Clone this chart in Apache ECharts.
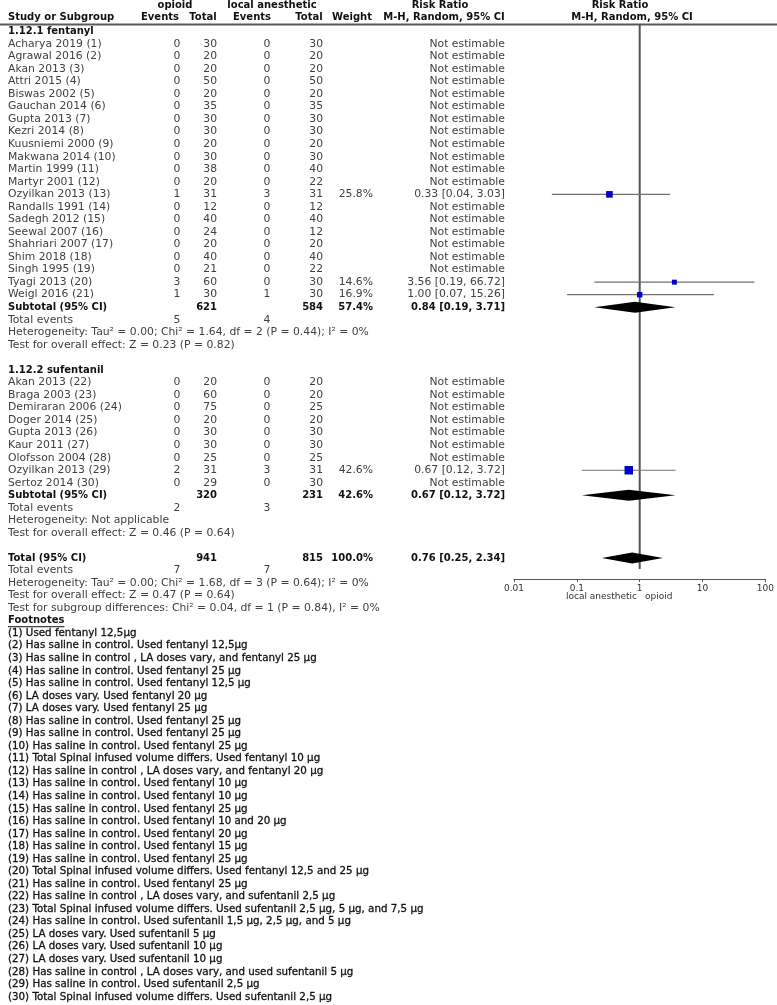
<!DOCTYPE html>
<html>
<head>
<meta charset="utf-8">
<script src="https://cdn.jsdelivr.net/npm/echarts@6/dist/echarts.min.js"></script>
<style>
html,body{margin:0;padding:0;background:#fff}
#chart{width:777px;height:1005px}
</style>
</head>
<body>
<div id="chart"></div>
<script>
// ---- data: 1.12.1 fentanyl
var fentanylStudies = ["Acharya 2019 (1)","Agrawal 2016 (2)","Akan 2013 (3)","Attri 2015 (4)","Biswas 2002 (5)","Gauchan 2014 (6)","Gupta 2013 (7)","Kezri 2014 (8)","Kuusniemi 2000 (9)","Makwana 2014 (10)","Martin 1999 (11)","Martyr 2001 (12)","Ozyilkan 2013 (13)","Randalls 1991 (14)","Sadegh 2012 (15)","Seewal 2007 (16)","Shahriari 2007 (17)","Shim 2018 (18)","Singh 1995 (19)","Tyagi 2013 (20)","Weigl 2016 (21)"];
var fentanylOpioidEvents = [0,0,0,0,0,0,0,0,0,0,0,0,1,0,0,0,0,0,0,3,1];
var fentanylOpioidTotal  = [30,20,20,50,20,35,30,30,20,30,38,20,31,12,40,24,20,40,21,60,30];
var fentanylLAEvents     = [0,0,0,0,0,0,0,0,0,0,0,0,3,0,0,0,0,0,0,0,1];
var fentanylLATotal      = [30,20,20,50,20,35,30,30,20,30,40,22,31,12,40,12,20,40,22,30,30];
var fentanylWeight = [null,null,null,null,null,null,null,null,null,null,null,null,25.8,null,null,null,null,null,null,14.6,16.9];
var fentanylRR = [null,null,null,null,null,null,null,null,null,null,null,null,[0.33,0.04,3.03],null,null,null,null,null,null,[3.56,0.19,66.72],[1.00,0.07,15.26]];
var fentanylSubtotal = [621, 584, 57.4];
var fentanylSubtotalRR = [0.84, 0.19, 3.71];
var fentanylEvents = [5, 4];
var fentanylStats = ["Heterogeneity: Tau\u00b2 = 0.00; Chi\u00b2 = 1.64, df = 2 (P = 0.44); I\u00b2 = 0%","Test for overall effect: Z = 0.23 (P = 0.82)"];

// ---- data: 1.12.2 sufentanil
var sufentanilStudies = ["Akan 2013 (22)","Braga 2003 (23)","Demiraran 2006 (24)","Doger 2014 (25)","Gupta 2013 (26)","Kaur 2011 (27)","Olofsson 2004 (28)","Ozyilkan 2013 (29)","Sertoz 2014 (30)"];
var sufentanilOpioidEvents = [0,0,0,0,0,0,0,2,0];
var sufentanilOpioidTotal  = [20,60,75,20,30,30,25,31,29];
var sufentanilLAEvents     = [0,0,0,0,0,0,0,3,0];
var sufentanilLATotal      = [20,20,25,20,30,30,25,31,30];
var sufentanilWeight = [null,null,null,null,null,null,null,42.6,null];
var sufentanilRR = [null,null,null,null,null,null,null,[0.67,0.12,3.72],null];
var sufentanilSubtotal = [320, 231, 42.6];
var sufentanilSubtotalRR = [0.67, 0.12, 3.72];
var sufentanilEvents = [2, 3];
var sufentanilStats = ["Heterogeneity: Not applicable","Test for overall effect: Z = 0.46 (P = 0.64)"];

// ---- overall
var overallTotal = [941, 815, 100.0];
var overallRR = [0.76, 0.25, 2.34];
var overallEvents = [7, 7];
var overallStats = ["Heterogeneity: Tau\u00b2 = 0.00; Chi\u00b2 = 1.68, df = 3 (P = 0.64); I\u00b2 = 0%","Test for overall effect: Z = 0.47 (P = 0.64)","Test for subgroup differences: Chi\u00b2 = 0.04, df = 1 (P = 0.84), I\u00b2 = 0%"];

var axisTicks = [0.01, 0.1, 1, 10, 100];
var favours = ["local anesthetic", "opioid"];

var footnotes = [
"(1) Used fentanyl 12,5\u03bcg",
"(2) Has saline in control. Used fentanyl 12,5\u03bcg",
"(3) Has saline in control , LA doses vary, and fentanyl 25 \u03bcg",
"(4) Has saline in control. Used fentanyl 25 \u03bcg",
"(5) Has saline in control. Used fentanyl 12,5 \u03bcg",
"(6) LA doses vary. Used fentanyl 20 \u03bcg",
"(7) LA doses vary. Used fentanyl 25 \u03bcg",
"(8) Has saline in control. Used fentanyl 25 \u03bcg",
"(9) Has saline in control. Used fentanyl 25 \u03bcg",
"(10) Has saline in control. Used fentanyl 25 \u03bcg",
"(11) Total Spinal infused volume differs. Used fentanyl 10 \u03bcg",
"(12) Has saline in control , LA doses vary, and fentanyl 20 \u03bcg",
"(13) Has saline in control. Used fentanyl 10 \u03bcg",
"(14) Has saline in control. Used fentanyl 10 \u03bcg",
"(15) Has saline in control. Used fentanyl 25 \u03bcg",
"(16) Has saline in control. Used fentanyl 10 and 20 \u03bcg",
"(17) Has saline in control. Used fentanyl 20 \u03bcg",
"(18) Has saline in control. Used fentanyl 15 \u03bcg",
"(19) Has saline in control. Used fentanyl 25 \u03bcg",
"(20) Total Spinal infused volume differs. Used fentanyl 12,5 and 25 \u03bcg",
"(21) Has saline in control. Used fentanyl 25 \u03bcg",
"(22) Has saline in control , LA doses vary, and sufentanil 2,5 \u03bcg",
"(23) Total Spinal infused volume differs. Used sufentanil 2,5 \u03bcg, 5 \u03bcg, and 7,5 \u03bcg",
"(24) Has saline in control. Used sufentanil 1,5 \u03bcg, 2,5 \u03bcg, and 5 \u03bcg",
"(25) LA doses vary. Used sufentanil 5 \u03bcg",
"(26) LA doses vary. Used sufentanil 10 \u03bcg",
"(27) LA doses vary. Used sufentanil 10 \u03bcg",
"(28) Has saline in control , LA doses vary, and used sufentanil 5 \u03bcg",
"(29) Has saline in control. Used sufentanil 2,5 \u03bcg",
"(30) Total Spinal infused volume differs. Used sufentanil 2,5 \u03bcg"
];

// ---- layout
var ROW_H = 12.54;      // px per row
var TOP_ROW = -3.5;     // row index at the top edge
var N_ROWS = 80;
var AXIS_Y = 579;       // pixel y of the forest axis line
var FONT = "DejaVu Sans";
var COLS = {
  name:   {x: 8,   align: 'left'},
  opEv:   {x: 177, align: 'center'},
  opTot:  {x: 217, align: 'right'},
  laEv:   {x: 267, align: 'center'},
  laTot:  {x: 323, align: 'right'},
  weight: {x: 373, align: 'right'},
  rr:     {x: 505, align: 'right'}
};
var STYLES = {
  normal: {fontSize: 10.8, fontWeight: 'normal', fill: '#404040'},
  bold:   {fontSize: 10, fontWeight: 'bold', fill: '#111'},
  note:   {fontSize: 10.3, fontWeight: 'normal', fill: '#111', stroke: 0.3},
  small:  {fontSize: 9, fontWeight: 'normal', fill: '#333'}
};

var cells = [];   // text cells
var marks = [];   // forest marks
function put(row, x, align, text, style, underline) {
  cells.push({x: x, row: row, align: align, text: String(text), style: style || 'normal', underline: !!underline});
}
function cell(row, col, text, style) { put(row, COLS[col].x, COLS[col].align, text, style); }
function ci(e) { return e[0].toFixed(2) + " [" + e[1].toFixed(2) + ", " + e[2].toFixed(2) + "]"; }

// header
put(-3.1, 175, 'center', 'opioid', 'bold');
put(-3.1, 272, 'center', 'local anesthetic', 'bold');
put(-3.1, 440, 'center', 'Risk Ratio', 'bold');
put(-3.1, 620, 'center', 'Risk Ratio', 'bold');
put(-2.15, 8, 'left', 'Study or Subgroup', 'bold');
put(-2.15, 160, 'center', 'Events', 'bold');
put(-2.15, 203, 'center', 'Total', 'bold');
put(-2.15, 252, 'center', 'Events', 'bold');
put(-2.15, 309, 'center', 'Total', 'bold');
put(-2.15, 352, 'center', 'Weight', 'bold');
put(-2.15, 444, 'center', 'M-H, Random, 95% CI', 'bold');
put(-2.15, 632, 'center', 'M-H, Random, 95% CI', 'bold');
marks.push({kind: 'hline', row: -1.55});
marks.push({kind: 'vline', row: -1.55});

function addGroup(row, title, names, oe, ot, le, lt, w, rr, sub, subRR, ev, stats) {
  put(row, 8, 'left', title, 'bold');
  row++;
  for (var i = 0; i < names.length; i++, row++) {
    cell(row, 'name', names[i]);
    cell(row, 'opEv', oe[i]);
    cell(row, 'opTot', ot[i]);
    cell(row, 'laEv', le[i]);
    cell(row, 'laTot', lt[i]);
    if (w[i] != null) cell(row, 'weight', w[i].toFixed(1) + '%');
    cell(row, 'rr', rr[i] ? ci(rr[i]) : 'Not estimable');
    if (rr[i]) marks.push({kind: 'study', row: row, rr: rr[i][0], lo: rr[i][1], hi: rr[i][2], w: w[i]});
  }
  cell(row, 'name', 'Subtotal (95% CI)', 'bold');
  cell(row, 'opTot', sub[0], 'bold');
  cell(row, 'laTot', sub[1], 'bold');
  cell(row, 'weight', sub[2].toFixed(1) + '%', 'bold');
  cell(row, 'rr', ci(subRR), 'bold');
  marks.push({kind: 'diamond', row: row, rr: subRR[0], lo: subRR[1], hi: subRR[2]});
  row++;
  cell(row, 'name', 'Total events');
  cell(row, 'opEv', ev[0]);
  cell(row, 'laEv', ev[1]);
  row++;
  for (var k = 0; k < stats.length; k++, row++) cell(row, 'name', stats[k]);
  return row + 1;
}

var r = addGroup(-1, '1.12.1 fentanyl', fentanylStudies, fentanylOpioidEvents, fentanylOpioidTotal,
  fentanylLAEvents, fentanylLATotal, fentanylWeight, fentanylRR, fentanylSubtotal, fentanylSubtotalRR,
  fentanylEvents, fentanylStats);
r = addGroup(r, '1.12.2 sufentanil', sufentanilStudies, sufentanilOpioidEvents, sufentanilOpioidTotal,
  sufentanilLAEvents, sufentanilLATotal, sufentanilWeight, sufentanilRR, sufentanilSubtotal, sufentanilSubtotalRR,
  sufentanilEvents, sufentanilStats);

cell(r, 'name', 'Total (95% CI)', 'bold');
cell(r, 'opTot', overallTotal[0], 'bold');
cell(r, 'laTot', overallTotal[1], 'bold');
cell(r, 'weight', overallTotal[2].toFixed(1) + '%', 'bold');
cell(r, 'rr', ci(overallRR), 'bold');
marks.push({kind: 'diamond', row: r, rr: overallRR[0], lo: overallRR[1], hi: overallRR[2]});
r++;
cell(r, 'name', 'Total events');
cell(r, 'opEv', overallEvents[0]);
cell(r, 'laEv', overallEvents[1]);
r++;
for (var k = 0; k < overallStats.length; k++, r++) cell(r, 'name', overallStats[k]);
put(r, 8, 'left', 'Footnotes', 'bold', true);
r++;
for (var f = 0; f < footnotes.length; f++, r++) put(r, 8, 'left', footnotes[f], 'note');

// labels under the forest axis
put(44.1, 637, 'right', favours[0], 'small');
put(44.1, 645, 'left', favours[1], 'small');

var AXIS_MAX_ROW = TOP_ROW + AXIS_Y / ROW_H;

var measureCtx = document.createElement('canvas').getContext('2d');

function textItem(params, api) {
  var d = cells[params.dataIndex];
  var p = api.coord([d.x, d.row]);
  var s = STYLES[d.style];
  var st = {text: d.text, fill: s.fill, fontSize: s.fontSize, fontWeight: s.fontWeight,
            fontFamily: FONT, align: d.align, verticalAlign: 'middle'};
  if (s.stroke) { st.stroke = s.fill; st.lineWidth = s.stroke; }
  var txt = {type: 'text', x: p[0], y: p[1], style: st};
  if (!d.underline) return txt;
  measureCtx.font = s.fontWeight + ' ' + s.fontSize + 'px "' + FONT + '"';
  var wd = measureCtx.measureText(d.text).width;
  return {type: 'group', children: [txt,
    {type: 'line', shape: {x1: p[0], y1: p[1] + 6, x2: p[0] + wd, y2: p[1] + 6}, style: {stroke: s.fill, lineWidth: 1}}]};
}

function markItem(params, api) {
  var d = marks[params.dataIndex];
  if (d.kind === 'hline') {
    var y = api.coord([1, d.row])[1];
    return {type: 'line', shape: {x1: 0, y1: y, x2: api.getWidth(), y2: y}, style: {stroke: '#5a5a5a', lineWidth: 2}};
  }
  if (d.kind === 'vline') {
    var a = api.coord([1, d.row]);
    var b = api.coord([1, AXIS_MAX_ROW]);
    return {type: 'line', shape: {x1: a[0], y1: a[1], x2: b[0], y2: b[1] - 10}, style: {stroke: '#555', lineWidth: 2}};
  }
  var c = api.coord([d.rr, d.row]);
  var lo = api.coord([d.lo, d.row]);
  var hi = api.coord([d.hi, d.row]);
  if (d.kind === 'diamond') {
    var h = 5.5;
    return {type: 'polygon', shape: {points: [[lo[0], c[1]], [c[0], c[1] - h], [hi[0], c[1]], [c[0], c[1] + h]]},
            style: {fill: '#000'}};
  }
  var s = 13 * Math.sqrt(d.w / 100);
  return {type: 'group', children: [
    {type: 'line', shape: {x1: lo[0], y1: c[1], x2: hi[0], y2: c[1]}, style: {stroke: '#707070', lineWidth: 1.2}},
    {type: 'rect', shape: {x: c[0] - s / 2, y: c[1] - s / 2, width: s, height: s}, style: {fill: '#0000c8'}}
  ]};
}

var chart = echarts.init(document.getElementById('chart'), null, {renderer: 'canvas'});
chart.setOption({
  animation: false,
  backgroundColor: '#fff',
  grid: [
    {left: 0, right: 0, top: 0, height: N_ROWS * ROW_H},
    {left: 514, width: 256, top: 0, height: AXIS_Y}
  ],
  xAxis: [
    {gridIndex: 0, type: 'value', min: 0, max: 777, show: false},
    {gridIndex: 1, type: 'log', logBase: 10, min: axisTicks[0], max: axisTicks[axisTicks.length - 1],
     position: 'bottom',
     axisLine: {show: true, onZero: false, lineStyle: {color: '#555', width: 1}},
     axisTick: {show: true, length: 3, lineStyle: {color: '#555'}},
     minorTick: {show: false},
     splitLine: {show: false},
     axisLabel: {fontFamily: FONT, fontSize: 9, color: '#333', margin: 5,
       formatter: function (v) { return String(parseFloat(Number(v).toPrecision(6))); }}}
  ],
  yAxis: [
    {gridIndex: 0, type: 'value', min: TOP_ROW, max: TOP_ROW + N_ROWS, inverse: true, show: false},
    {gridIndex: 1, type: 'value', min: TOP_ROW, max: AXIS_MAX_ROW, inverse: true, show: false}
  ],
  series: [
    {type: 'custom', xAxisIndex: 0, yAxisIndex: 0, clip: false, silent: true,
     data: cells.map(function (c) { return [c.x, c.row]; }), renderItem: textItem},
    {type: 'custom', xAxisIndex: 1, yAxisIndex: 1, clip: false, silent: true,
     data: marks.map(function (m) { return [m.rr || 1, m.row]; }), renderItem: markItem}
  ]
});
</script>
</body>
</html>
